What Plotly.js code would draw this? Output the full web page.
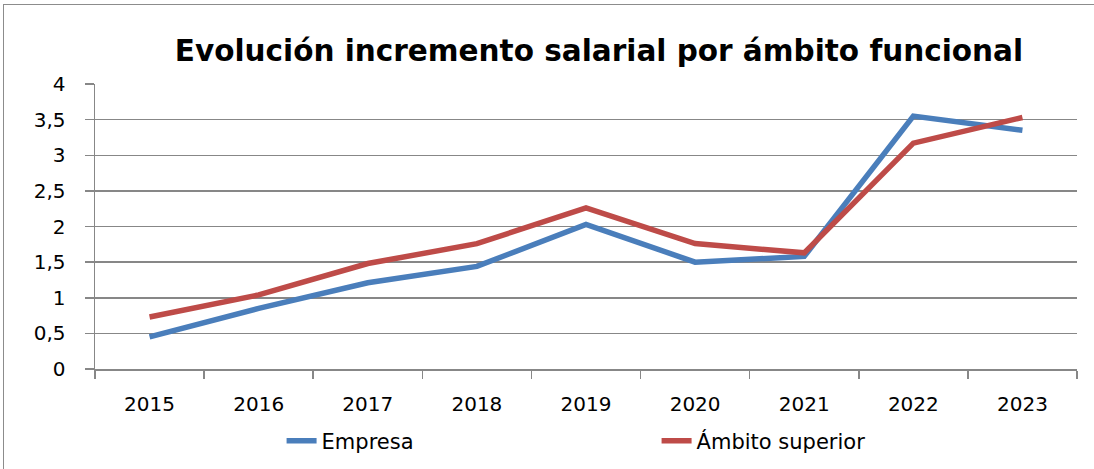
<!DOCTYPE html>
<html>
<head>
<meta charset="utf-8">
<script src="https://cdn.plot.ly/plotly-3.0.1.min.js"></script>
<style>
  html, body { margin: 0; padding: 0; background: #fff; }
  #frame { position: absolute; left: 3px; top: 4px; width: 1094px; height: 470px; border: 1px solid #8c8c8c; }
  #chart { position: absolute; left: 0; top: 0; width: 1094px; height: 469px; }
</style>
</head>
<body>
<div id="frame"></div>
<div id="chart"></div>
<script>
const years = ['2015','2016','2017','2018','2019','2020','2021','2022','2023'];
const empresa = [0.45, 0.85, 1.21, 1.44, 2.03, 1.50, 1.58, 3.55, 3.35];
const ambitoSuperior = [0.73, 1.04, 1.48, 1.76, 2.26, 1.76, 1.63, 3.17, 3.53];
const seriesNames = ['Empresa', 'Ámbito superior'];
const titleText = 'Evolución incremento salarial por ámbito funcional';

const font = 'DejaVu Sans, sans-serif';
const gridColor = '#878787';

const traces = [
  { x: years, y: empresa, name: seriesNames[0], type: 'scatter', mode: 'lines',
    line: { color: '#4A7EBB', width: 5.5 } },
  { x: years, y: ambitoSuperior, name: seriesNames[1], type: 'scatter', mode: 'lines',
    line: { color: '#BE4B48', width: 5.5 } }
];

const layout = {
  width: 1094, height: 469,
  margin: { l: 95, r: 17, t: 84, b: 100, autoexpand: false },
  paper_bgcolor: 'rgba(0,0,0,0)', plot_bgcolor: 'rgba(0,0,0,0)',
  separators: ', ',
  font: { family: font, color: '#000', size: 20 },
  title: { text: titleText, font: { family: font, size: 29.5, color: '#000', weight: 'bold' },
           x: 0.5475, xanchor: 'center', y: 0.893, yanchor: 'middle' },
  xaxis: {
    type: 'category', range: [-0.5, years.length - 0.5], automargin: false,
    showgrid: false, showline: true, linecolor: gridColor, linewidth: 1.5,
    ticks: 'outside', tickson: 'boundaries', ticklen: 8, tickcolor: gridColor, tickwidth: 1.5,
    ticklabelstandoff: 16, tickfont: { family: font, size: 20, color: '#000' },
    zeroline: false, fixedrange: true
  },
  yaxis: {
    range: [0, 4], dtick: 0.5, tick0: 0, automargin: false,
    showgrid: true, gridcolor: gridColor, gridwidth: 1.5,
    showline: true, linecolor: gridColor, linewidth: 1.5,
    ticks: 'outside', ticklen: 9, tickcolor: gridColor, tickwidth: 1.5,
    ticklabelstandoff: 15, tickfont: { family: font, size: 20, color: '#000' },
    zeroline: false, fixedrange: true
  },
  showlegend: true,
  legend: {
    orientation: 'h', x: 0.19, xanchor: 'left', y: -0.2526, yanchor: 'middle',
    entrywidth: 330, entrywidthmode: 'pixels', itemwidth: 30,
    font: { family: font, size: 21, color: '#000' }, bgcolor: 'rgba(0,0,0,0)'
  }
};

Plotly.newPlot('chart', traces, layout, { displayModeBar: false, staticPlot: true });
</script>
</body>
</html>
